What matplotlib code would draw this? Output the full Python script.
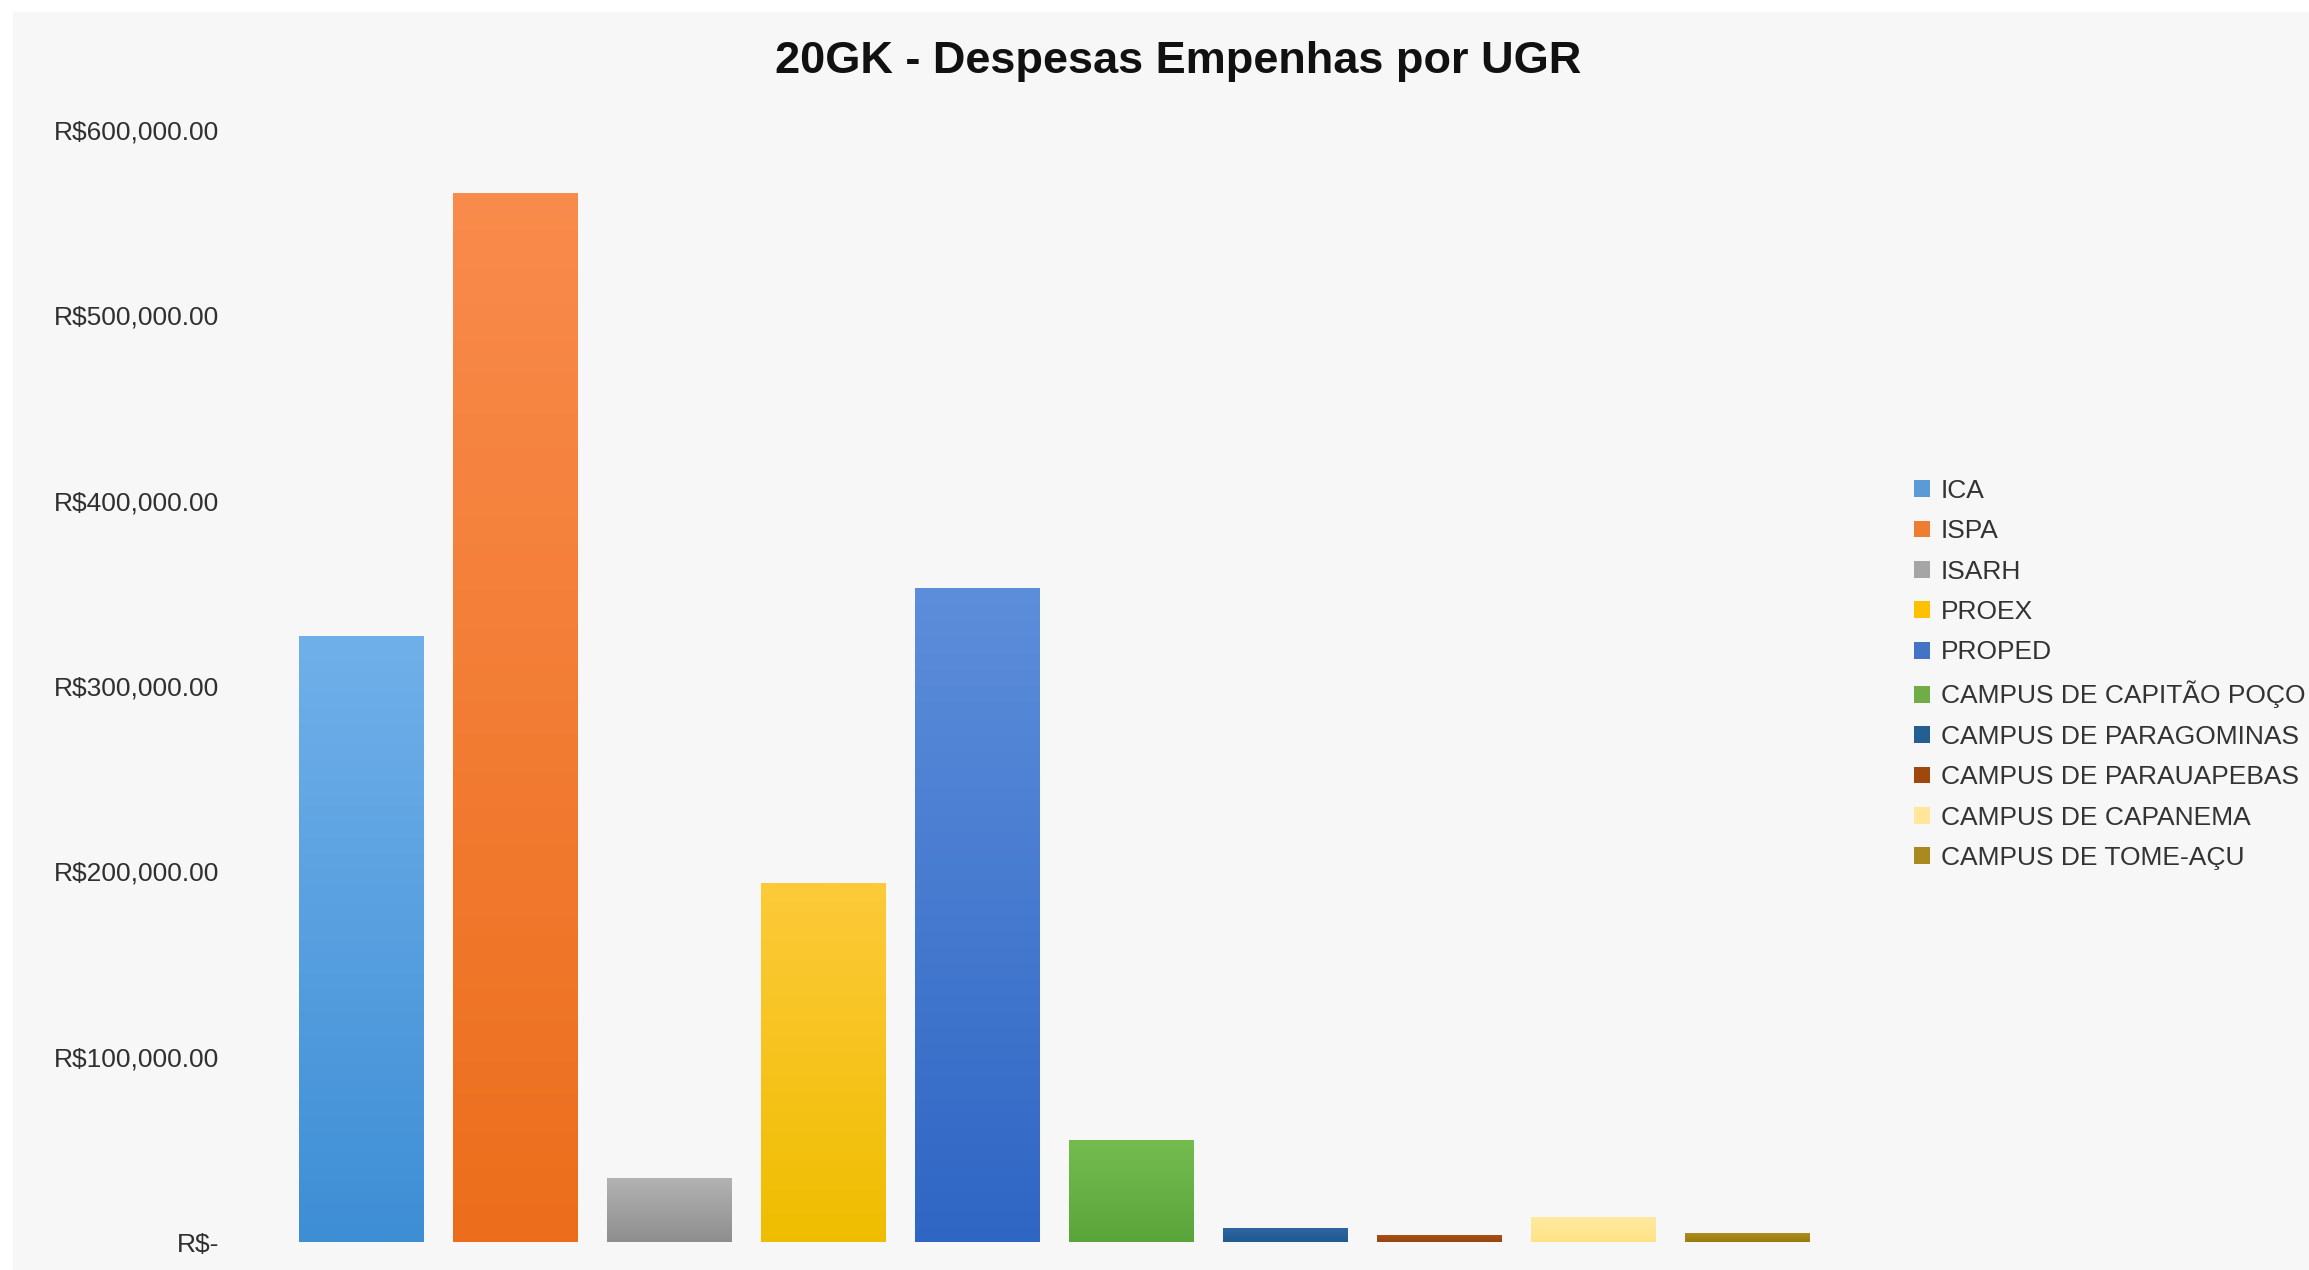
import matplotlib
matplotlib.use("Agg")
import matplotlib.pyplot as plt
import numpy as np
from matplotlib.colors import LinearSegmentedColormap
from matplotlib.patches import Patch, Rectangle
from matplotlib.ticker import FuncFormatter

plt.rcParams['font.family'] = ['Liberation Sans', 'DejaVu Sans']

# UGRs and committed expenses (R$)
ugrs = ["ICA", "ISPA", "ISARH", "PROEX", "PROPED",
        "CAMPUS DE CAPITÃO POÇO", "CAMPUS DE PARAGOMINAS",
        "CAMPUS DE PARAUAPEBAS", "CAMPUS DE CAPANEMA", "CAMPUS DE TOME-AÇU"]
valores = [327000, 566000, 34500, 193500, 353000, 55000, 7700, 3800, 13700, 5000]

# base colour per UGR plus top/bottom of the bar gradient
cores = ["#5b9bd5", "#ed7d31", "#a5a5a5", "#ffc000", "#4472c4",
         "#70ad47", "#255e91", "#9e480e", "#ffe699", "#a88a1e"]
topo = ["#70b0ea", "#f98b4c", "#b2b2b2", "#fdca3a", "#5d8edb",
        "#74bc50", "#2d66a4", "#a85318", "#ffeaa2", "#ac8e22"]
base = ["#3e8ed5", "#ec6e1c", "#8e8e8e", "#efbd00", "#2f66c4",
        "#5aa53a", "#215a8e", "#98450e", "#ffe386", "#9a7b0c"]

yticks = [0, 100000, 200000, 300000, 400000, 500000, 600000]

W, H = 2309, 1270
fig = plt.figure(figsize=(W / 100, H / 100), dpi=100)
fig.patch.set_facecolor("white")
fig.patches.append(Rectangle((13 / W, 0), 1, 1 - 12 / H, transform=fig.transFigure,
                             facecolor="#f7f7f7", edgecolor="none", zorder=-10))

ax = fig.add_axes([284.5 / W, 28 / H, (1824 - 284.5) / W, (1242 - 130) / H])
ax.set_facecolor("none")

x = np.arange(len(valores))
larg = 0.81
barras = ax.bar(x, valores, width=larg, color=cores, zorder=2)

# vertical gradient inside each bar
grad = np.linspace(0, 1, 256).reshape(-1, 1)
for b, c0, c1 in zip(barras, base, topo):
    cmap = LinearSegmentedColormap.from_list("g", [c0, c1])
    x0, w, h = b.get_x(), b.get_width(), b.get_height()
    im = ax.imshow(grad, cmap=cmap, origin="lower", aspect="auto",
                   extent=(x0, x0 + w, 0, h), zorder=3)
    im.set_clip_path(b)

ax.set_xlim(-0.5, len(valores) - 0.5)
ax.set_ylim(0, 600000)
ax.set_xticks([])
ax.set_yticks(yticks)


def reais(v, pos):
    if v == 0:
        return r"R\$-"
    return r"R\$" + f"{v:,.2f}"


ax.yaxis.set_major_formatter(FuncFormatter(reais))
ax.tick_params(axis="y", length=0, pad=47, labelsize=19, labelcolor="#303030")
for s in ax.spines.values():
    s.set_visible(False)

fig.text(1178 / W, 1 - 62 / H, "20GK - Despesas Empenhas por UGR", ha="center",
         va="center", fontsize=32.5, fontweight="bold", color="#111111")

handles = [Patch(facecolor=c, edgecolor="none") for c in cores]
fig.legend(handles, ugrs, loc="upper left", bbox_to_anchor=(1914 / W, 1 - 479 / H),
           frameon=False, fontsize=19, borderpad=0, borderaxespad=0,
           handlelength=0.6, handleheight=0.6, handletextpad=0.42,
           labelspacing=0.62, labelcolor="#333333")

fig.savefig("out.png", dpi=100, facecolor=fig.get_facecolor())
